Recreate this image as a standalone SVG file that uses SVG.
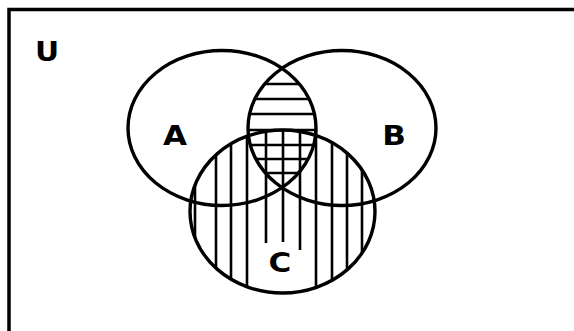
<svg xmlns="http://www.w3.org/2000/svg" width="574" height="331" viewBox="0 0 574 331">
  <style>
    .set { fill: none; stroke: #000; stroke-width: 3.4; }
    .hatch { stroke: #000; stroke-width: 2.6; fill: none; }
    .lbl { font-family: "DejaVu Sans", "Liberation Sans", sans-serif; font-weight: bold; font-size: 27px; fill: #000; text-anchor: middle; }
  </style>
  <defs>
    <clipPath id="clipA"><ellipse cx="222" cy="128" rx="94" ry="77.5"/></clipPath>
    <clipPath id="clipB"><ellipse cx="342" cy="128" rx="94" ry="77.5"/></clipPath>
  </defs>
  <rect width="574" height="331" fill="#fff"/>
  <g id="universe">
    <path d="M9,331 V9.5 H574" fill="none" stroke="#000" stroke-width="3.5"/>
    <text class="lbl" x="0" y="0" transform="translate(47,61) scale(1.1,1)">U</text>
  </g>
  <g id="hatching">
    <g clip-path="url(#clipA)"><g clip-path="url(#clipB)">
      <line class="hatch" x1="240" y1="84" x2="330" y2="84"/>
      <line class="hatch" x1="240" y1="99" x2="330" y2="99"/>
      <line class="hatch" x1="240" y1="114" x2="330" y2="114"/>
      <line class="hatch" x1="240" y1="130" x2="330" y2="130" stroke-width="5"/>
      <line class="hatch" x1="240" y1="145" x2="330" y2="145"/>
      <line class="hatch" x1="240" y1="159" x2="330" y2="159"/>
      <line class="hatch" x1="240" y1="173" x2="330" y2="173"/>
    </g></g>
    <line class="hatch" x1="195" y1="185" x2="195" y2="238"/>
    <line class="hatch" x1="216" y1="155" x2="216" y2="268"/>
    <line class="hatch" x1="231" y1="144" x2="231" y2="279"/>
    <line class="hatch" x1="247" y1="136" x2="247" y2="287"/>
    <line class="hatch" x1="266" y1="130" x2="266" y2="243"/>
    <line class="hatch" x1="283" y1="130" x2="283" y2="242"/>
    <line class="hatch" x1="300" y1="130" x2="300" y2="250"/>
    <line class="hatch" x1="316" y1="130" x2="316" y2="287"/>
    <line class="hatch" x1="332" y1="143" x2="332" y2="280"/>
    <line class="hatch" x1="347" y1="153" x2="347" y2="270"/>
    <line class="hatch" x1="362" y1="170" x2="362" y2="253"/>
  </g>
  <g id="set-A">
    <ellipse class="set" cx="222" cy="128" rx="94" ry="77.5"/>
    <text class="lbl" x="0" y="0" transform="translate(175,145) scale(1.15,1)">A</text>
  </g>
  <g id="set-B">
    <ellipse class="set" cx="342" cy="128" rx="94" ry="77.5"/>
    <text class="lbl" x="0" y="0" transform="translate(394,145) scale(1.15,1)">B</text>
  </g>
  <g id="set-C">
    <ellipse class="set" cx="282.5" cy="211.5" rx="92.5" ry="81.5"/>
    <text class="lbl" x="0" y="0" transform="translate(280,272) scale(1.15,1)">C</text>
  </g>
</svg>
